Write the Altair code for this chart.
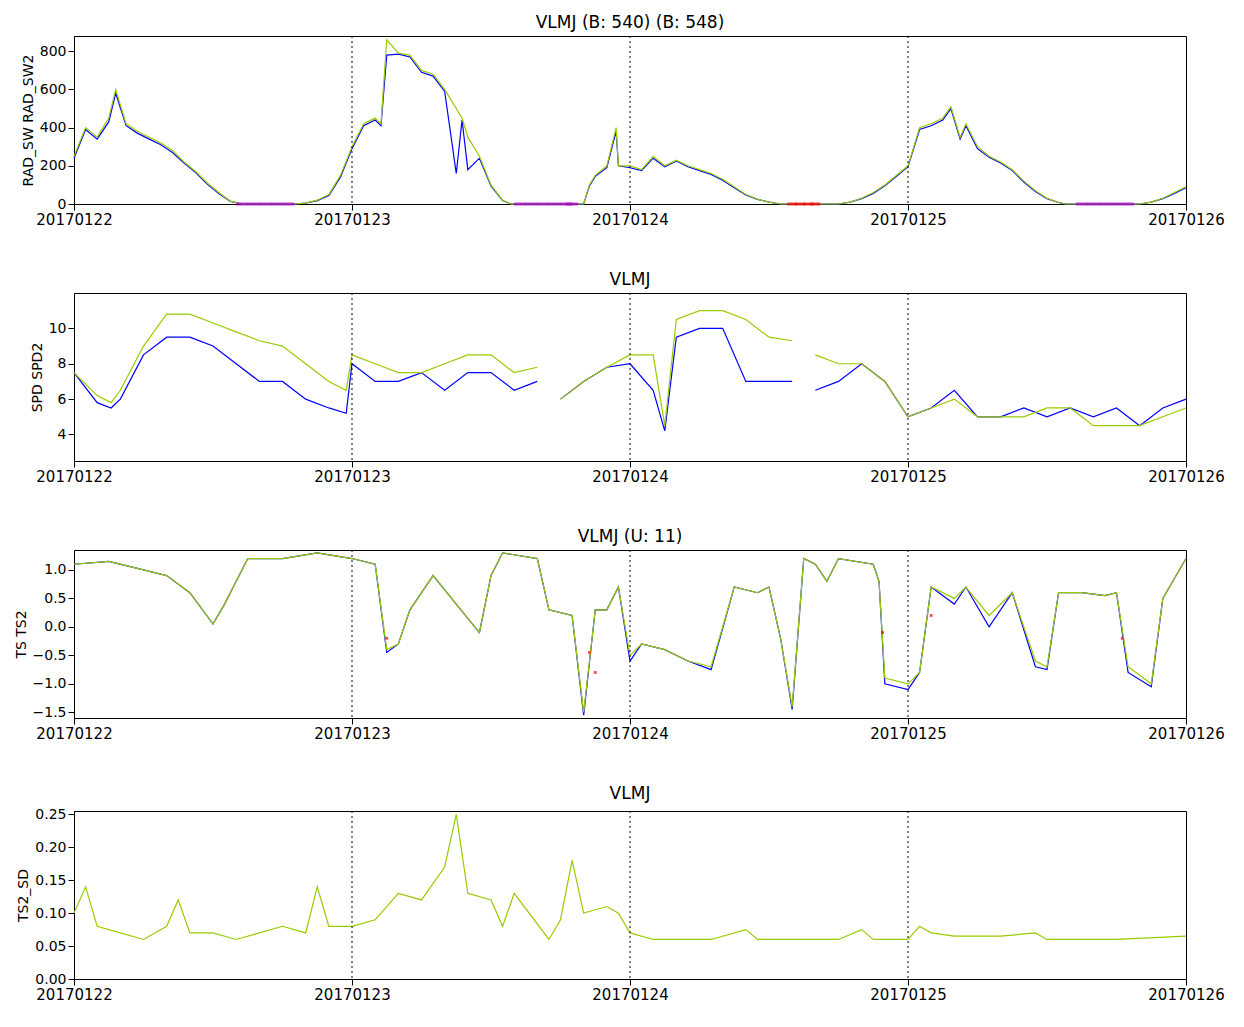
import altair as alt
import pandas as pd

day_labels = ["20170122", "20170123", "20170124", "20170125", "20170126"]

# Panel 1: RAD_SW (blue) / RAD_SW2 (green), hours since 20170122
rad_t =   [0,1,2,3,3.6,4.5,5.5,6.5,7.5,8.5,9.5,10.5,11.5,12.5,13.5,14.5,19,20,21,22,23,24,25,26,26.5,27,28,29,30,31,32,33,33.5,34,35,36,37,37.7,44,44.5,45,46,46.8,47,48,49,50,51,52,53,54,55,56,57,58,59,60,61,66,67,68,69,70,71,72,73,74,75,75.7,76.5,77,78,79,80,81,82,83,84,85,85.6,92,93,94,95,96]
rad_sw2 = [250,400,350,450,600,420,380,350,320,280,220,170,110,60,15,0,0,5,20,50,150,300,420,450,420,860,790,780,700,680,600,500,450,350,250,100,20,0,0,100,150,200,400,200,200,180,250,200,230,200,180,160,130,90,50,25,10,0,0,10,30,60,100,150,200,400,420,450,510,350,420,300,250,220,180,120,70,30,8,0,0,10,30,60,90]
rad_sw =  [240,390,340,430,580,410,370,340,310,270,215,165,105,55,14,0,0,5,18,45,140,290,410,440,410,780,785,770,690,670,590,160,440,180,240,95,18,0,0,95,145,190,380,200,190,175,240,195,225,195,175,155,125,85,48,24,10,0,0,10,28,55,95,145,195,390,410,440,500,340,410,290,245,215,175,115,65,28,8,0,0,10,28,55,85]
purple_t = [14.5,15.5,16.5,17.5,18.5,38.5,39.5,40.5,41.5,42.5,43,87,88,89,90,91]
red_t = [62,62.7,63.4,64]

# Panel 2: SPD (blue) / SPD2 (green)
spd_t = [0,2,3.2,4,6,8,10,12,14,16,18,20,22,23.5,24,26,28,30,32,34,36,38,40,41,42,44,46,48,50,51,52,54,56,58,60,62,63,64,66,68,70,72,74,76,78,80,82,84,86,88,90,92,94,96]
spd2 = [7.5,6.2,5.8,6.5,9.0,10.8,10.8,10.3,9.8,9.3,9.0,8.0,7.0,6.5,8.5,8.0,7.5,7.5,8.0,8.5,8.5,7.5,7.8,None,6.0,7.0,7.8,8.5,8.5,4.5,10.5,11.0,11.0,10.5,9.5,9.3,None,8.5,8.0,8.0,7.0,5.0,5.5,6.0,5.0,5.0,5.0,5.5,5.5,4.5,4.5,4.5,5.0,5.5]
spd = [7.5,5.8,5.5,6.0,8.5,9.5,9.5,9.0,8.0,7.0,7.0,6.0,5.5,5.2,8.0,7.0,7.0,7.5,6.5,7.5,7.5,6.5,7.0,None,6.0,7.0,7.8,8.0,6.5,4.2,9.5,10.0,10.0,7.0,7.0,7.0,None,6.5,7.0,8.0,7.0,5.0,5.5,6.5,5.0,5.0,5.5,5.0,5.5,5.0,5.5,4.5,5.5,6.0]

# Panel 3: TS (blue) / TS2 (green)
ts_t = [0,3,6,8,10,12,13,15,18,21,24,26,27,28,29,31,33,35,36,37,40,41,43,44,45,46,47,48,49,51,53,55,57,59,60,61,62,63,64,65,66,69,69.5,70,72,73,74,76,77,79,81,83,84,85,87,89,90,91,93,94,96]
ts2 = [1.1,1.15,1.0,0.9,0.6,0.05,0.4,1.2,1.2,1.3,1.2,1.1,-0.4,-0.3,0.3,0.9,0.4,-0.1,0.9,1.3,1.2,0.3,0.2,-1.5,0.3,0.3,0.7,-0.5,-0.3,-0.4,-0.6,-0.7,0.7,0.6,0.7,-0.2,-1.4,1.2,1.1,0.8,1.2,1.1,0.8,-0.9,-1.0,-0.8,0.7,0.5,0.7,0.2,0.6,-0.6,-0.7,0.6,0.6,0.55,0.6,-0.7,-1.0,0.5,1.2]
ts = [1.1,1.15,1.0,0.9,0.6,0.05,0.4,1.2,1.2,1.3,1.2,1.1,-0.45,-0.3,0.3,0.9,0.4,-0.1,0.9,1.3,1.2,0.3,0.2,-1.55,0.3,0.3,0.7,-0.6,-0.3,-0.4,-0.6,-0.75,0.7,0.6,0.7,-0.2,-1.45,1.2,1.1,0.8,1.2,1.1,0.8,-1.0,-1.1,-0.8,0.7,0.4,0.7,0.0,0.6,-0.7,-0.75,0.6,0.6,0.55,0.6,-0.8,-1.05,0.5,1.2]
ts_red_t = [27,44.5,45,69.8,74,90.5]
ts_red_v = [-0.2,-0.45,-0.8,-0.1,0.2,-0.2]

# Panel 4: TS2_SD
sd_t = [0,1,2,4,6,8,9,10,12,14,16,18,20,21,22,24,26,27,28,30,32,33,34,36,37,38,41,42,43,44,46,47,48,50,55,58,59,66,68,69,72,73,74,76,80,83,84,90,96]
sd = [0.1,0.14,0.08,0.07,0.06,0.08,0.12,0.07,0.07,0.06,0.07,0.08,0.07,0.14,0.08,0.08,0.09,0.11,0.13,0.12,0.17,0.25,0.13,0.12,0.08,0.13,0.06,0.09,0.18,0.1,0.11,0.1,0.07,0.06,0.06,0.075,0.06,0.06,0.075,0.06,0.06,0.08,0.07,0.065,0.065,0.07,0.06,0.06,0.065]

BLUE = "#0000ff"
GREEN = "#99cc00"
W, H = 1112, 168
FONT = "DejaVu Sans"

label_expr = "datum.value==0?'20170122':datum.value==24?'20170123':datum.value==48?'20170124':datum.value==72?'20170125':'20170126'"
xscale = alt.Scale(domain=[0, 96], nice=False, zero=False)
xaxis = alt.Axis(values=[0, 24, 48, 72, 96], labelExpr=label_expr, title=None, grid=False,
                 labelFontSize=15, tickSize=6, labelFlush=False, domainColor="black", tickColor="black", labelColor="black")
X = alt.X("t:Q", scale=xscale, axis=xaxis)

def line_layer(t, v, color):
    df = pd.DataFrame({"t": t, "v": v})
    return alt.Chart(df).mark_line(color=color, strokeWidth=1.2).encode(x=X, y="v:Q")

def panel(title, ytitle, ydomain, yticks, layers):
    rules = alt.Chart(pd.DataFrame({"t": [24, 48, 72]})).mark_rule(
        color="black", strokeDash=[2, 3], strokeWidth=1).encode(x=X, y=alt.value(0), y2=alt.value(H))
    yenc = alt.Y("v:Q", scale=alt.Scale(domain=ydomain, nice=False, zero=False),
                 axis=alt.Axis(values=yticks, title=ytitle, titleFontSize=14, titleFontWeight="normal",
                               labelFontSize=14, grid=False, tickSize=6, domainColor="black", tickColor="black",
                               labelColor="black", titleColor="black"))
    data_layers = alt.layer(*layers).encode(y=yenc)
    return alt.layer(data_layers, rules).properties(
        width=W, height=H, title=alt.TitleParams(title, fontSize=17, fontWeight="normal", font=FONT))

p1 = panel("VLMJ (B: 540) (B: 548)", "RAD_SW RAD_SW2", [0, 880], [0, 200, 400, 600, 800], [
    line_layer(rad_t, rad_sw, BLUE), line_layer(rad_t, rad_sw2, GREEN),
    alt.Chart(pd.DataFrame({"t": purple_t, "v": [0]*len(purple_t)})).mark_tick(color="#aa00cc", orient="horizontal", thickness=3, size=12).encode(x=X, y="v:Q"),
    alt.Chart(pd.DataFrame({"t": red_t, "v": [0]*len(red_t)})).mark_tick(color="red", orient="horizontal", thickness=3, size=10).encode(x=X, y="v:Q"),
])
p2 = panel("VLMJ", "SPD SPD2", [2.5, 12], [4, 6, 8, 10], [
    line_layer(spd_t, spd, BLUE), line_layer(spd_t, spd2, GREEN)])
p3 = panel("VLMJ (U: 11)", "TS TS2", [-1.6, 1.35], [-1.5, -1.0, -0.5, 0.0, 0.5, 1.0], [
    line_layer(ts_t, ts, BLUE), line_layer(ts_t, ts2, GREEN),
    alt.Chart(pd.DataFrame({"t": ts_red_t, "v": ts_red_v})).mark_square(color="red", size=8).encode(x=X, y="v:Q")])
p4 = panel("VLMJ", "TS2_SD", [0, 0.255], [0.0, 0.05, 0.10, 0.15, 0.20, 0.25], [
    line_layer(sd_t, sd, GREEN)])

chart = alt.vconcat(p1, p2, p3, p4, spacing=42).configure_view(stroke="black", strokeWidth=1).configure_axis(labelFont=FONT, titleFont=FONT)
chart.save("out.html", embed_options={"renderer": "svg", "actions": False})
